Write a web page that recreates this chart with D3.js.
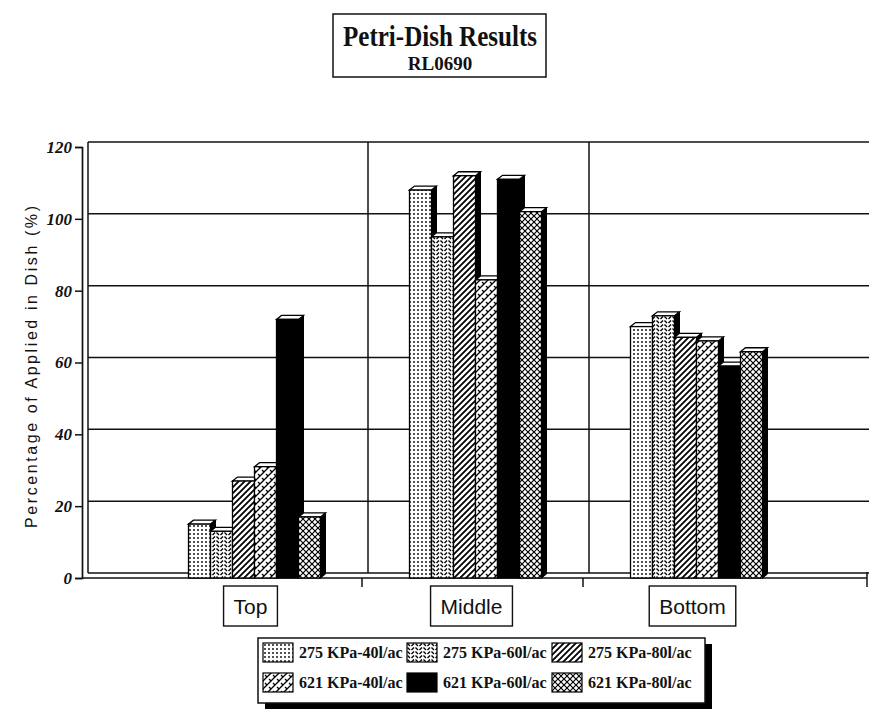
<!DOCTYPE html>
<html>
<head>
<meta charset="utf-8">
<script src="https://cdn.jsdelivr.net/npm/d3@7"></script>
<style>
  body { margin: 0; background: #fff; }
  svg { display: block; }
</style>
</head>
<body>
<script>
// chart data
let categories = ["Top", "Middle", "Bottom"];
let seriesNames = ["275 KPa-40l/ac", "275 KPa-60l/ac", "275 KPa-80l/ac",
                   "621 KPa-40l/ac", "621 KPa-60l/ac", "621 KPa-80l/ac"];
let kpa275_40 = [15, 108, 70];
let kpa275_60 = [13, 95, 73];
let kpa275_80 = [27, 112, 67];
let kpa621_40 = [31, 83, 66];
let kpa621_60 = [72, 111, 59];
let kpa621_80 = [17, 102, 63];
let yTicks = [0, 20, 40, 60, 80, 100, 120];

let seriesValues = [kpa275_40, kpa275_60, kpa275_80, kpa621_40, kpa621_60, kpa621_80];
let fills = ["url(#dots)", "url(#wavy)", "url(#diag)", "url(#brick)", "#000", "url(#cross)"];

let width = 869;
let height = 709;
let depth = {dx: 6, dy: 5};   // 3d wall offset
let barDepth = {dx: 5, dy: 4};

let svg = d3.select("body").append("svg").attr("width", width).attr("height", height);

// patterns
let defs = svg.append("defs");
let pat = (id, w, h) => defs.append("pattern").attr("id", id)
    .attr("patternUnits", "userSpaceOnUse").attr("width", w).attr("height", h);

let p1 = pat("dots", 4, 4);
p1.append("rect").attr("width", 4).attr("height", 4).attr("fill", "#fff");
p1.append("circle").attr("cx", 2).attr("cy", 2).attr("r", 0.9).attr("fill", "#000");

let p2 = pat("wavy", 8, 8);
p2.append("rect").attr("width", 8).attr("height", 8).attr("fill", "#fff");
p2.append("path").attr("d", "M0.5,0.5 L3,3 M4.5,3 L7,0.5 M0.5,4.5 L3,7 M4.5,7 L7,4.5")
    .attr("stroke", "#000").attr("stroke-width", 1.4).attr("fill", "none");

let p3 = pat("diag", 6, 6);
p3.append("rect").attr("width", 6).attr("height", 6).attr("fill", "#fff");
p3.append("path").attr("d", "M0,6 L6,0 M-1,1 L1,-1 M5,7 L7,5")
    .attr("stroke", "#000").attr("stroke-width", 1.8).attr("fill", "none");

let p4 = pat("brick", 8, 8);
p4.append("rect").attr("width", 8).attr("height", 8).attr("fill", "#fff");
p4.append("path").attr("d", "M0,8 L8,0 M-1,1 L1,-1 M7,9 L9,7 M2,2 L4,4 M6,6 L8,8 M0,0 L0.5,0.5")
    .attr("stroke", "#000").attr("stroke-width", 1.3).attr("fill", "none");

let p6 = pat("cross", 6, 6);
p6.append("rect").attr("width", 6).attr("height", 6).attr("fill", "#fff");
p6.append("path").attr("d", "M0,0 L6,6 M6,0 L0,6")
    .attr("stroke", "#000").attr("stroke-width", 1.2).attr("fill", "none");

// scales
let axisX = 82;
let plotRight = 867;
let y = d3.scaleLinear().domain([0, 120]).range([578, 147]);
let x0 = d3.scaleBand().domain(categories).range([144, 807]);
let groupWidth = 132;
let x1 = d3.scaleBand().domain(seriesNames).range([0, groupWidth]);

let ink = "#111";
let chartGroup = svg.append("g");

// back wall gridlines
chartGroup.selectAll(".grid").data(yTicks.slice(1)).enter().append("line")
    .attr("x1", axisX + depth.dx).attr("x2", width)
    .attr("y1", (d) => y(d) - depth.dy).attr("y2", (d) => y(d) - depth.dy)
    .attr("stroke", ink).attr("stroke-width", 1.5);

// back wall left edge
chartGroup.append("line")
    .attr("x1", axisX + depth.dx).attr("x2", axisX + depth.dx)
    .attr("y1", y(120) - depth.dy).attr("y2", y(0) - depth.dy)
    .attr("stroke", ink).attr("stroke-width", 1.5);

// category dividers on the back wall
chartGroup.selectAll(".divider").data(categories.slice(1)).enter().append("line")
    .attr("x1", (d) => x0(d) + depth.dx - 3).attr("x2", (d) => x0(d) + depth.dx - 3)
    .attr("y1", y(120) - depth.dy).attr("y2", y(0) - depth.dy)
    .attr("stroke", ink).attr("stroke-width", 1.5);

// floor
chartGroup.append("line")
    .attr("x1", axisX + depth.dx).attr("x2", width)
    .attr("y1", y(0) - depth.dy).attr("y2", y(0) - depth.dy)
    .attr("stroke", ink).attr("stroke-width", 1.5);
chartGroup.append("line")
    .attr("x1", axisX).attr("x2", plotRight)
    .attr("y1", y(0)).attr("y2", y(0))
    .attr("stroke", ink).attr("stroke-width", 1.7);

// front y axis
let yAxis = d3.axisLeft(y).tickValues(yTicks).tickSize(7).tickPadding(3);
let yg = chartGroup.append("g").attr("transform", `translate(${axisX},0)`).call(yAxis);
yg.select(".domain").attr("stroke", ink).attr("stroke-width", 1.7);
yg.selectAll(".tick line").attr("stroke", ink).attr("stroke-width", 1.5);
yg.selectAll(".tick text")
    .attr("font-family", "'Liberation Serif', 'Times New Roman', serif")
    .attr("font-style", "italic").attr("font-weight", "bold")
    .attr("font-size", 17).attr("fill", ink);

// x ticks under the floor
chartGroup.selectAll(".xtick").data(categories.slice(1)).enter().append("line")
    .attr("x1", (d) => x0(d) - 3).attr("x2", (d) => x0(d) - 3)
    .attr("y1", y(0)).attr("y2", y(0) + 9)
    .attr("stroke", ink).attr("stroke-width", 1.5);
chartGroup.append("line")
    .attr("x1", plotRight).attr("x2", plotRight)
    .attr("y1", y(0) - 6).attr("y2", y(0) + 9)
    .attr("stroke", ink).attr("stroke-width", 1.5);

// bars
let barData = [];
categories.forEach((c, ci) => {
    seriesNames.forEach((s, si) => {
        barData.push({cat: c, series: s, value: seriesValues[si][ci], fill: fills[si]});
    });
});

let barX = (d) => x0(d.cat) + (x0.bandwidth() - groupWidth) / 2 + x1(d.series);
let bw = x1.bandwidth();

let bars = chartGroup.selectAll(".bar").data(barData).enter().append("g").attr("class", "bar");
bars.append("path")
    .attr("d", (d) => {
        let xl = barX(d) + bw, yt = y(d.value), yb = y(0);
        return `M${xl},${yt} L${xl + barDepth.dx},${yt - barDepth.dy} L${xl + barDepth.dx},${yb - barDepth.dy} L${xl},${yb} Z`;
    })
    .attr("fill", "#000").attr("stroke", "#000").attr("stroke-width", 1);
bars.append("path")
    .attr("d", (d) => {
        let xl = barX(d), yt = y(d.value);
        return `M${xl},${yt} L${xl + barDepth.dx},${yt - barDepth.dy} L${xl + bw + barDepth.dx},${yt - barDepth.dy} L${xl + bw},${yt} Z`;
    })
    .attr("fill", "#fff").attr("stroke", "#000").attr("stroke-width", 1.3);
bars.append("rect")
    .attr("x", (d) => barX(d)).attr("y", (d) => y(d.value))
    .attr("width", bw).attr("height", (d) => y(0) - y(d.value))
    .attr("fill", (d) => d.fill).attr("stroke", "#000").attr("stroke-width", 1.3);

// category labels in boxes
let catFont = "'Liberation Sans', Arial, sans-serif";
let catG = chartGroup.selectAll(".cat").data(categories).enter().append("g")
    .attr("transform", (d) => `translate(${x0(d) + x0.bandwidth() / 2 - 4},0)`);
catG.append("text")
    .attr("y", 614).attr("text-anchor", "middle")
    .attr("font-family", catFont).attr("font-size", 21).attr("fill", ink)
    .text((d) => d);
catG.each(function () {
    let g = d3.select(this);
    let bb = g.select("text").node().getBBox();
    g.insert("rect", "text")
        .attr("x", bb.x - 10).attr("y", 586)
        .attr("width", bb.width + 20).attr("height", 40)
        .attr("fill", "#fff").attr("stroke", ink).attr("stroke-width", 1.4);
});

// y axis title
svg.append("text")
    .attr("transform", "translate(37,367) rotate(-90)")
    .attr("text-anchor", "middle")
    .attr("font-family", catFont).attr("font-size", 16).attr("fill", ink)
    .attr("textLength", 322).attr("lengthAdjust", "spacing")
    .text("Percentage of Applied in Dish (%)");

// title box
let serif = "'Liberation Serif', 'Times New Roman', serif";
svg.append("rect").attr("x", 333).attr("y", 14).attr("width", 213).attr("height", 63)
    .attr("fill", "#fff").attr("stroke", ink).attr("stroke-width", 1.5);
svg.append("text").attr("x", 440).attr("y", 46).attr("text-anchor", "middle")
    .attr("font-family", serif).attr("font-weight", "bold").attr("font-size", 29).attr("fill", ink)
    .attr("textLength", 194).attr("lengthAdjust", "spacingAndGlyphs")
    .text("Petri-Dish Results");
svg.append("text").attr("x", 440).attr("y", 70).attr("text-anchor", "middle")
    .attr("font-family", serif).attr("font-weight", "bold").attr("font-size", 19).attr("fill", ink)
    .text("RL0690");

// legend
let legend = svg.append("g");
legend.append("rect").attr("x", 265).attr("y", 644).attr("width", 447).attr("height", 66).attr("fill", "#000");
legend.append("rect").attr("x", 258).attr("y", 638).attr("width", 447).attr("height", 65)
    .attr("fill", "#fff").attr("stroke", ink).attr("stroke-width", 1.5);
let legX = [263, 407, 552];
let legY = [643, 673];
let items = legend.selectAll(".leg").data(seriesNames).enter().append("g")
    .attr("transform", (d, i) => `translate(${legX[i % 3]},${legY[Math.floor(i / 3)]})`);
items.append("rect").attr("width", 30).attr("height", 19)
    .attr("fill", (d, i) => fills[i]).attr("stroke", "#000").attr("stroke-width", 1.2);
items.append("text").attr("x", 36).attr("y", 15)
    .attr("font-family", serif).attr("font-weight", "bold").attr("font-size", 16).attr("fill", ink)
    .text((d) => d);
</script>
</body>
</html>
